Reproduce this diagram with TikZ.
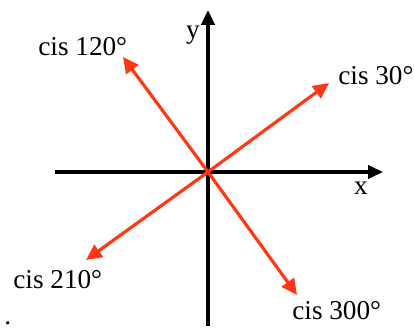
\documentclass[tikz,border=0pt]{standalone}
\usepackage{fontspec}
\setmainfont{Liberation Serif}
\usetikzlibrary{arrows.meta}
\definecolor{vecred}{RGB}{255,55,20}
\tikzset{
  axis/.style={line width=1.9pt,-{Triangle[length=8.5pt,width=7.5pt]}},
  vec/.style={line width=1.8pt,vecred,-{Triangle[length=9pt,width=8.5pt]}},
  lbl/.style={font=\fontsize{15.5}{18}\selectfont,inner sep=0pt}
}
\begin{document}
\begin{tikzpicture}[x=0.02cm,y=0.02cm]
  \useasboundingbox (-208,-157) rectangle (206,172);
  % axes
  \coordinate (O) at (0,0);
  \coordinate (xl) at (-153,0);
  \coordinate (xr) at (175,0);
  \coordinate (yb) at (0,-154);
  \coordinate (yt) at (0,162);
  \draw[axis] (xl) -- (xr);
  \draw[axis] (yb) -- (yt);
  \node[lbl] (xlab) at (153,-16) {x};
  \node[lbl] (ylab) at (-15,137) {y};
  % vectors
  \coordinate (t30) at (121,89);
  \coordinate (t120) at (-85,115);
  \coordinate (t210) at (-122,-88);
  \coordinate (t300) at (89,-123);
  \draw[vec] (O) -- (t30);
  \draw[vec] (O) -- (t120);
  \draw[vec] (O) -- (t210);
  \draw[vec] (O) -- (t300);
  \node[lbl,anchor=base west] (c30) at (130,88) {cis 30°};
  \node[lbl,anchor=base west] (c120) at (-170,117) {cis 120°};
  \node[lbl,anchor=base west] (c210) at (-195,-116) {cis 210°};
  \node[lbl,anchor=base west] (c300) at (84,-148) {cis 300°};
  \node[lbl,anchor=base west] (dot) at (-204,-153) {.};
\end{tikzpicture}
\end{document}
